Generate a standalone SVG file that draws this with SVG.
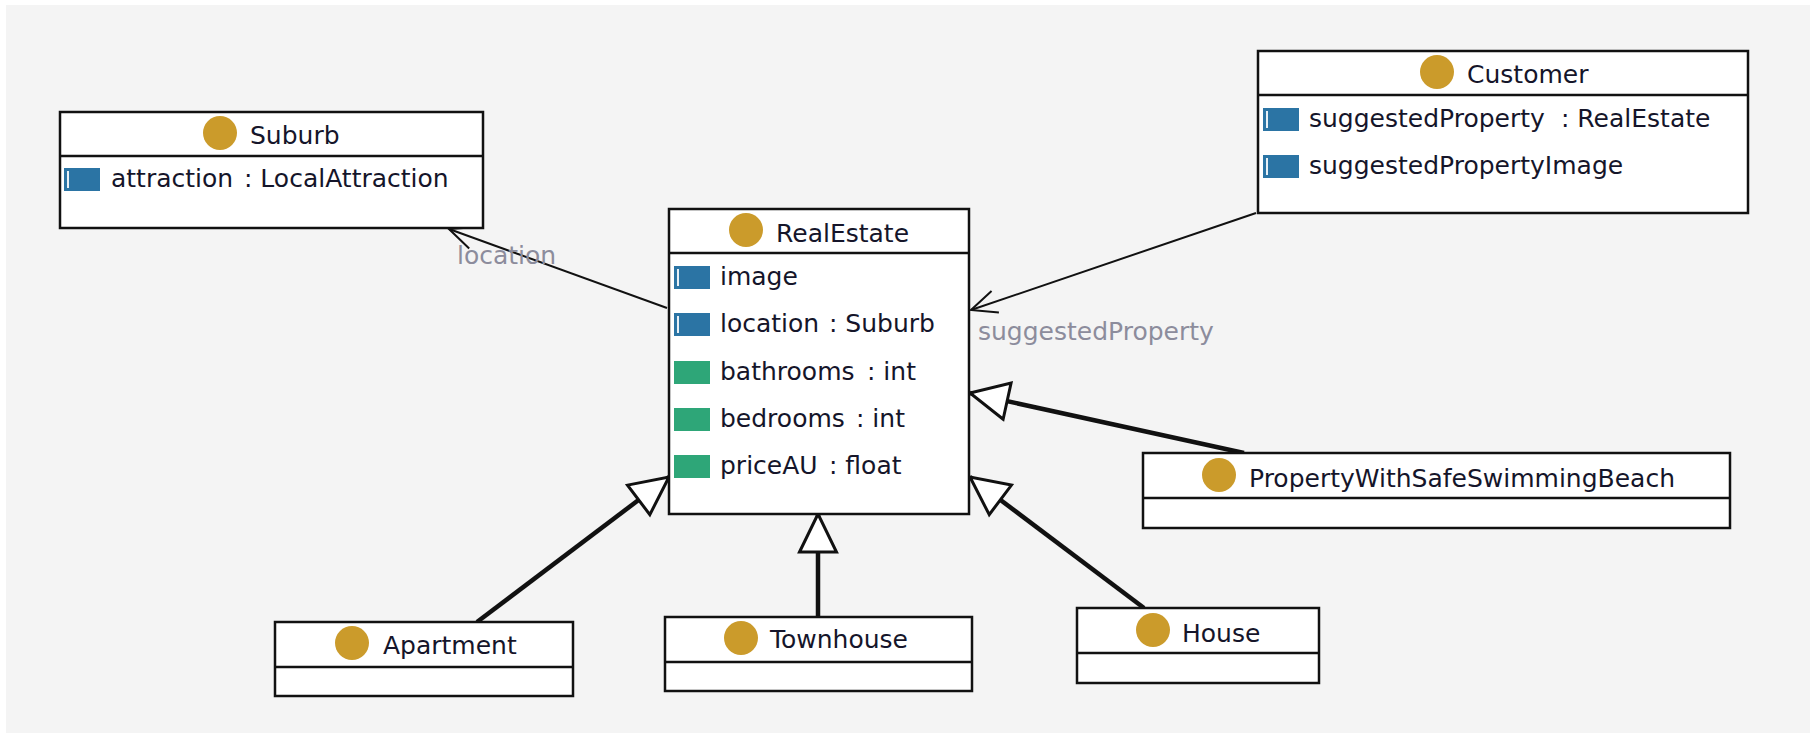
<svg xmlns="http://www.w3.org/2000/svg" width="1816" height="738" viewBox="0 0 1816 738">
<style>
text{font-family:"DejaVu Sans","Liberation Sans",sans-serif;font-size:25px;fill:#15152a}
.box{fill:#fff;stroke:#111;stroke-width:2.5}
.div{stroke:#111;stroke-width:2.5}
.dot{fill:#cb9b2b}
.ref{fill:#2b74a4}
.att{fill:#2ea678}
.bar{fill:#e8f0f6}
.lbl{fill:#8c8c9c}
.assoc{stroke:#111;stroke-width:2;fill:none;marker-end:url(#open)}
.gen{stroke:#111;stroke-width:4.5;fill:none;marker-end:url(#tri)}
</style>
<defs>
<marker id="tri" markerUnits="userSpaceOnUse" markerWidth="44" markerHeight="44" refX="38" refY="18.5" orient="auto" overflow="visible">
<path d="M0,0 L38,18.5 L0,37 Z" fill="#fff" stroke="#111" stroke-width="3" stroke-linejoin="miter"/>
</marker>
<marker id="open" markerUnits="userSpaceOnUse" markerWidth="30" markerHeight="26" refX="27.6" refY="12.4" orient="auto" overflow="visible">
<path d="M2,1 L27.6,12.4 L2,23.8" fill="none" stroke="#111" stroke-width="2"/>
</marker>
</defs>
<rect x="0" y="0" width="1816" height="738" fill="#fff"/>
<rect x="6" y="5" width="1804" height="728" fill="#f4f4f4"/>

<g id="connectors">
<line class="assoc" x1="667" y1="308" x2="449" y2="229"/>
<line class="assoc" x1="1256" y1="213" x2="971" y2="310"/>
<line class="gen" x1="477" y1="622" x2="669" y2="477"/>
<line class="gen" x1="818" y1="617" x2="818" y2="514"/>
<line class="gen" x1="1144" y1="608" x2="970" y2="477"/>
<line class="gen" x1="1244" y1="453" x2="970" y2="393"/>
<text class="lbl" x="457" y="264">location</text>
<text class="lbl" x="978" y="340">suggestedProperty</text>
</g>

<g id="Suburb">
<rect class="box" x="60" y="112" width="423" height="116"/>
<line class="div" x1="60" y1="156" x2="483" y2="156"/>
<circle class="dot" cx="220" cy="133" r="17"/>
<text x="250" y="144">Suburb</text>
<rect class="ref" x="64" y="168" width="36" height="23"/><rect class="bar" x="67" y="171" width="2" height="17"/>
<text x="111" y="187">attraction<tspan x="244">: LocalAttraction</tspan></text>
</g>

<g id="Customer">
<rect class="box" x="1258" y="51" width="490" height="162"/>
<line class="div" x1="1258" y1="95" x2="1748" y2="95"/>
<circle class="dot" cx="1437" cy="72" r="17"/>
<text x="1467" y="83">Customer</text>
<rect class="ref" x="1263" y="108" width="36" height="23"/><rect class="bar" x="1266" y="111" width="2" height="17"/>
<text x="1309" y="127">suggestedProperty<tspan x="1561">: RealEstate</tspan></text>
<rect class="ref" x="1263" y="155" width="36" height="23"/><rect class="bar" x="1266" y="158" width="2" height="17"/>
<text x="1309" y="174">suggestedPropertyImage</text>
</g>

<g id="RealEstate">
<rect class="box" x="669" y="209" width="300" height="305"/>
<line class="div" x1="669" y1="253" x2="969" y2="253"/>
<circle class="dot" cx="746" cy="230" r="17"/>
<text x="776" y="242">RealEstate</text>
<rect class="ref" x="674" y="266" width="36" height="23"/><rect class="bar" x="677" y="269" width="2" height="17"/>
<text x="720" y="285">image</text>
<rect class="ref" x="674" y="313" width="36" height="23"/><rect class="bar" x="677" y="316" width="2" height="17"/>
<text x="720" y="332">location<tspan x="829">: Suburb</tspan></text>
<rect class="att" x="674" y="361" width="36" height="23"/>
<text x="720" y="380">bathrooms<tspan x="867">: int</tspan></text>
<rect class="att" x="674" y="408" width="36" height="23"/>
<text x="720" y="427">bedrooms<tspan x="856">: int</tspan></text>
<rect class="att" x="674" y="455" width="36" height="23"/>
<text x="720" y="474">priceAU<tspan x="829">: float</tspan></text>
</g>

<g id="PropertyWithSafeSwimmingBeach">
<rect class="box" x="1143" y="453" width="587" height="75"/>
<line class="div" x1="1143" y1="498" x2="1730" y2="498"/>
<circle class="dot" cx="1219" cy="475" r="17"/>
<text x="1249" y="487">PropertyWithSafeSwimmingBeach</text>
</g>

<g id="Apartment">
<rect class="box" x="275" y="622" width="298" height="74"/>
<line class="div" x1="275" y1="667" x2="573" y2="667"/>
<circle class="dot" cx="352" cy="643" r="17"/>
<text x="383" y="654">Apartment</text>
</g>

<g id="Townhouse">
<rect class="box" x="665" y="617" width="307" height="74"/>
<line class="div" x1="665" y1="662" x2="972" y2="662"/>
<circle class="dot" cx="741" cy="638" r="17"/>
<text x="770" y="648">Townhouse</text>
</g>

<g id="House">
<rect class="box" x="1077" y="608" width="242" height="75"/>
<line class="div" x1="1077" y1="653" x2="1319" y2="653"/>
<circle class="dot" cx="1153" cy="630" r="17"/>
<text x="1182" y="642">House</text>
</g>
</svg>
